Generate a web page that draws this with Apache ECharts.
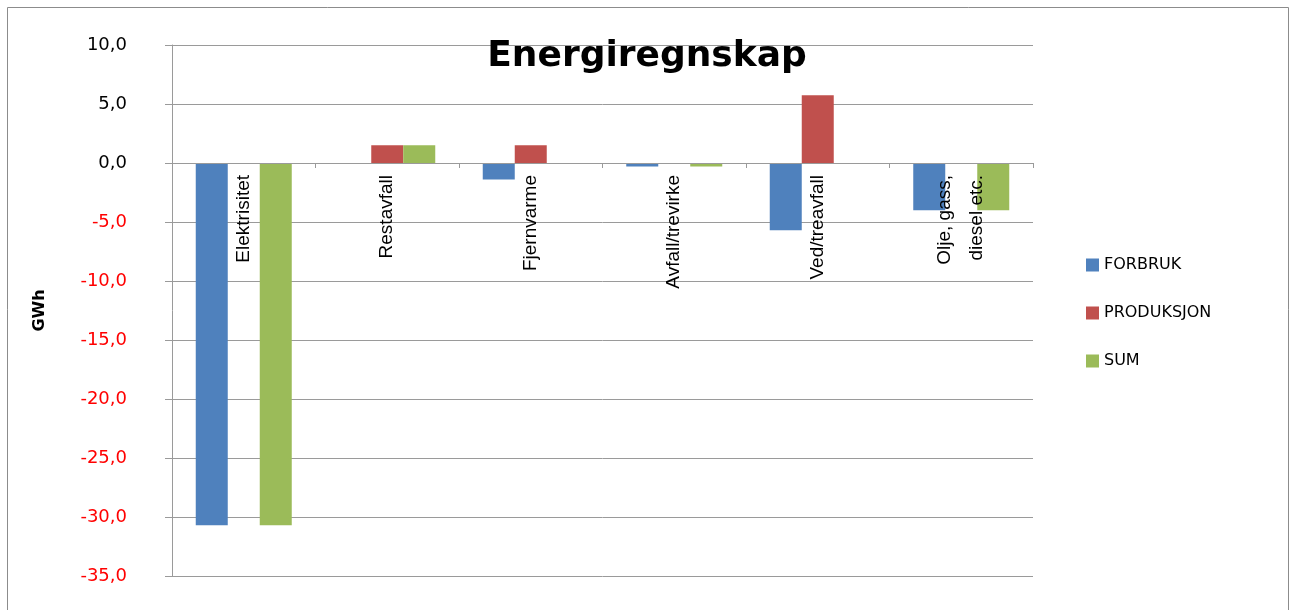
<!DOCTYPE html>
<html>
<head>
<meta charset="utf-8">
<style>
  html, body { margin: 0; padding: 0; background: #fff; }
  #chart { width: 1294px; height: 610px; }
</style>
<script src="https://cdn.jsdelivr.net/npm/echarts@6/dist/echarts.min.js"></script>
</head>
<body>
<div id="chart"></div>
<script>
// Energy balance per energy carrier (GWh)
const categories = ['Elektrisitet', 'Restavfall', 'Fjernvarme', 'Avfall/trevirke', 'Ved/treavfall', 'Olje, gass,\ndiesel etc.'];
const forbruk = [-30.7, 0, -1.4, -0.3, -5.7, -4.0];
const produksjon = [0, 1.5, 1.5, 0, 5.75, 0];
const sum = [-30.7, 1.5, 0, -0.3, 0, -4.0];
const seriesNames = ['FORBRUK', 'PRODUKSJON', 'SUM'];
const colors = ['#4F81BD', '#C0504D', '#9BBB59'];
const yMin = -35, yMax = 10, yStep = 5;

const chart = echarts.init(document.getElementById('chart'));
const gridColor = '#9a9a9a';
const gridTop = 45, gridBottom = 34, chartHeight = 610;
const plotHeight = chartHeight - gridTop - gridBottom;
// shift the category axis up from the bottom edge onto the zero line
const zeroOffset = -plotHeight * (0 - yMin) / (yMax - yMin);

chart.setOption({
  animation: false,
  color: colors,
  title: {
    text: 'Energiregnskap',
    left: 'center',
    top: 34,
    textStyle: { fontFamily: 'DejaVu Sans', fontWeight: 'bold', fontSize: 36, color: '#000' }
  },
  legend: {
    orient: 'vertical',
    left: 1086,
    top: 257,
    padding: 0,
    itemWidth: 13,
    itemHeight: 13,
    itemGap: 32,
    icon: 'rect',
    textStyle: { fontFamily: 'DejaVu Sans', fontSize: 16, color: '#000' },
    data: seriesNames
  },
  grid: { left: 172, right: 261, top: gridTop, bottom: gridBottom, outerBoundsMode: 'none', containLabel: false },
  xAxis: {
    type: 'category',
    data: categories,
    offset: zeroOffset,
    z: 5,
    axisLine: { onZero: false, lineStyle: { color: gridColor } },
    axisTick: { show: true, length: 5, lineStyle: { color: gridColor } },
    axisLabel: {
      rotate: 90,
      margin: 12,
      fontFamily: 'Liberation Sans',
      fontSize: 19,
      color: '#000',
      lineHeight: 32
    },
    splitLine: { show: false }
  },
  yAxis: {
    type: 'value',
    min: yMin,
    max: yMax,
    interval: yStep,
    name: 'GWh',
    nameLocation: 'middle',
    nameGap: 124,
    nameTextStyle: { fontFamily: 'DejaVu Sans', fontWeight: 'bold', fontSize: 16, color: '#000' },
    axisLine: { show: true, lineStyle: { color: gridColor } },
    axisTick: { show: true, length: 7, lineStyle: { color: gridColor } },
    axisLabel: {
      margin: 45,
      fontFamily: 'DejaVu Sans',
      fontSize: 18,
      formatter: v => v.toFixed(1).replace('.', ','),
      color: v => (Number(v) < 0 ? '#ff0000' : '#000')
    },
    splitLine: { show: true, lineStyle: { color: gridColor } }
  },
  graphic: [{
    type: 'rect',
    shape: { x: 7.5, y: 7.5, width: 1281, height: 640 },
    style: { fill: 'none', stroke: '#8c8c8c', lineWidth: 1 },
    silent: true
  }],
  series: [
    { name: seriesNames[0], type: 'bar', data: forbruk, barWidth: 32, barGap: '0%' },
    { name: seriesNames[1], type: 'bar', data: produksjon, barWidth: 32, barGap: '0%' },
    { name: seriesNames[2], type: 'bar', data: sum, barWidth: 32, barGap: '0%' }
  ]
});
</script>
</body>
</html>
